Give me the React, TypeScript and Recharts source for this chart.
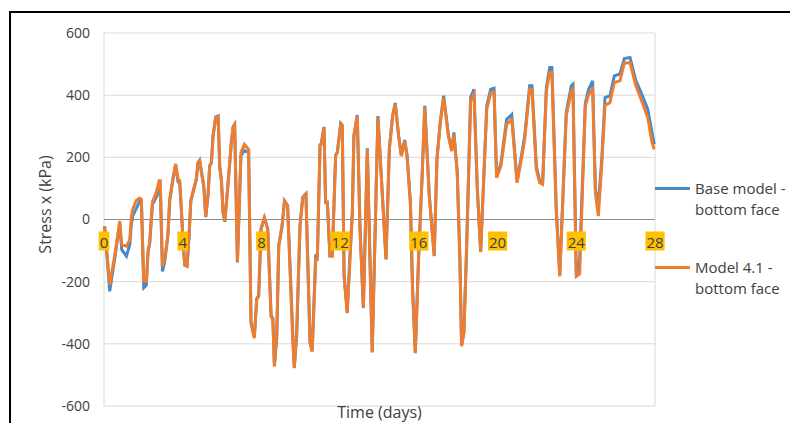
import React from 'react';
import {
    LineChart,
    Line,
    XAxis,
    YAxis,
    CartesianGrid,
    ReferenceLine,
    ReferenceDot,
} from 'recharts';

// time in days
const time = [
    0.03, 0.29, 0.54, 0.8, 0.9, 1.14, 1.31, 1.39, 1.47, 1.64, 1.81, 1.9, 2.02, 2.15, 2.24, 2.32,
    2.46, 2.66, 2.8, 2.86, 2.97, 3.08, 3.25, 3.34, 3.51, 3.64, 3.76, 3.85, 3.93, 4.02, 4.1, 4.22,
    4.32, 4.41, 4.56, 4.69, 4.78, 4.86, 4.97, 5.07, 5.17, 5.29, 5.37, 5.46, 5.54, 5.68, 5.8, 5.88,
    5.97, 6.05, 6.14, 6.27, 6.39, 6.47, 6.56, 6.64, 6.78, 6.96, 7.13, 7.35, 7.47, 7.64, 7.76, 7.86,
    7.98, 8.15, 8.32, 8.49, 8.58, 8.66, 8.78, 8.88, 9.05, 9.17, 9.33, 9.59, 9.67, 9.79, 9.96, 10.1,
    10.26, 10.47, 10.58, 10.76, 10.84, 10.98, 11.04, 11.18, 11.26, 11.35, 11.48, 11.6, 11.77, 11.86,
    12.03, 12.11, 12.2, 12.36, 12.5, 12.62, 12.7, 12.87, 13.01, 13.18, 13.3, 13.38, 13.63, 13.92,
    14.33, 14.5, 14.67, 14.8, 14.97, 15.11, 15.28, 15.4, 15.57, 15.68, 15.82, 15.99, 16.16, 16.3,
    16.53, 16.78, 16.92, 17.09, 17.26, 17.5, 17.67, 17.78, 17.95, 18.09, 18.17, 18.29, 18.43, 18.63,
    18.8, 18.97, 19.14, 19.45, 19.65, 19.82, 19.95, 20.17, 20.46, 20.72, 20.99, 21.24, 21.38, 21.63,
    21.75, 21.97, 22.14, 22.29, 22.48, 22.65, 22.76, 22.98, 23.16, 23.49, 23.75, 23.83, 24.0, 24.17,
    24.46, 24.63, 24.83, 24.97, 25.12, 25.3, 25.46, 25.71, 25.93, 26.22, 26.44, 26.73, 27.03, 27.29,
    27.63, 27.85, 27.96,
];

// Base model - bottom face (kPa)
const baseModel = [
    -21, -231, -128, -12, -97, -118, -80, -16, 13, 35, 58, 58, -220, -212, -104, -78,
    48, 72, 92, 105, -167, -138, -50, 60, 130, 175, 122, 116, 30, -72, -147, -150,
    -56, 58, 96, 128, 182, 190, 145, 107, 8, 80, 171, 183, 268, 330, 333, 170,
    122, 22, -7, 90, 182, 248, 298, 306, -138, 205, 222, 215, -330, -378, -255, -245,
    -30, 6, -30, -308, -318, -470, -380, -84, -20, 60, 45, -362, -476, -378, -20, 72,
    83, -395, -422, -112, -125, 240, 244, 298, 56, 56, -116, -116, 206, 218,
    309, 303, -180, -298, -112, 24, 271, 336, -30, -282, 13, 229, -425, 333,
    -127, 229, 336, 375, 271, 206, 256, 206, 56, -223, -427, -116, 131, 366,
    77, -116, 196, 315, 398, 272, 225, 280, 153, -138, -405, -362, -84, 392,
    419, 100, -102, 365, 419, 422, 138, 180, 322, 338, 125, 215, 270, 430,
    430, 170, 125, 118, 425, 489, 489, 38, -178, 345, 430, 435, -178, -130,
    375, 419, 446, 100, 43, 200, 392, 398, 462, 468, 518, 521, 446, 409,
    355, 280, 242,
];

// Model 4.1 - bottom face (kPa)
const model41 = [
    -21, -210, -118, -5, -81, -86, -65, 10, 35, 61, 69, 65, -199, -199, -97, -75,
    56, 88, 125, 125, -150, -129, -48, 67, 136, 179, 131, 125, 35, -70, -145, -150,
    -54, 61, 99, 131, 184, 189, 147, 109, 10, 83, 173, 184, 269, 328, 331, 173,
    125, 24, -5, 93, 184, 248, 296, 303, -135, 215, 242, 226, -333, -382, -258, -247,
    -32, 5, -32, -312, -322, -473, -365, -86, -21, 59, 43, -387, -478, -360, -21, 70,
    81, -398, -425, -129, -129, 237, 242, 296, 54, 54, -118, -118, 204, 215,
    306, 301, -183, -301, -129, 22, 269, 333, -32, -285, 11, 226, -428, 328,
    -129, 226, 333, 371, 269, 204, 253, 204, 54, -226, -430, -118, 129, 360,
    75, -118, 194, 312, 392, 269, 220, 274, 150, -140, -408, -365, -86, 382,
    403, 97, -105, 355, 406, 410, 134, 172, 306, 322, 118, 204, 258, 419,
    419, 161, 118, 113, 414, 473, 473, 32, -183, 333, 414, 420, -183, -175,
    365, 403, 419, 86, 11, 183, 368, 376, 441, 446, 503, 505, 430, 387,
    328, 247, 226,
];

const dayTicks = [0, 4, 8, 12, 16, 20, 24, 28];
const stressTicks = [-600, -400, -200, 0, 200, 400, 600];

const series = [
    { key: 'base', name: 'Base model - bottom face', color: '#4A89C8' },
    { key: 'model', name: 'Model 4.1 - bottom face', color: '#ED7D31' },
];

const data = time.map((t, i) => ({
    t,
    base: baseModel[i],
    model: model41[i],
}));

const FONT = '"Open Sans", "Liberation Sans", sans-serif';

function DayLabel(props: any) {
    const { cx, cy, label } = props;
    const txt = String(label);
    const w = txt.length * 8.6 + 2;
    return (
        <g>
            <rect x={cx - w / 2} y={cy + 12} width={w} height={19} fill='#FFC000' />
            <text
                x={cx}
                y={cy + 22}
                textAnchor='middle'
                dominantBaseline='central'
                fontSize={15}
                fontFamily={FONT}
                fill='#404040'
            >
                {txt}
            </text>
        </g>
    );
}

// legend drawn beside the chart, Excel style (line sample + 2 line label)
function SideLegend() {
    return (
        <div
            style={{
                position: 'absolute',
                left: 655,
                top: 178,
                width: 135,
                fontFamily: FONT,
                fontSize: 15,
                color: '#404040',
            }}
        >
            {series.map((s) => {
                const parts = s.name.split(' - ');
                return (
                    <div key={s.key} style={{ position: 'relative', height: 79, lineHeight: '21px' }}>
                        <div
                            style={{
                                position: 'absolute',
                                left: 0,
                                top: 9,
                                width: 35,
                                height: 3,
                                background: s.color,
                            }}
                        />
                        <div style={{ position: 'absolute', left: 40, top: 0, whiteSpace: 'nowrap' }}>
                            <div>{parts[0]} -</div>
                            <div>{parts[1]}</div>
                        </div>
                    </div>
                );
            })}
        </div>
    );
}

export default function App() {
    return (
        <div
            style={{
                position: 'absolute',
                left: 0,
                top: 0,
                width: 790,
                height: 423,
                overflow: 'hidden',
                background: '#fff',
            }}
        >
            <div
                style={{
                    position: 'absolute',
                    left: 9,
                    top: 11,
                    width: 800,
                    height: 430,
                    border: '2px solid #000',
                }}
            />
            <div style={{ position: 'absolute', left: 0, top: 0 }}>
                <LineChart
                    width={790}
                    height={423}
                    data={data}
                    margin={{ top: 33, right: 135, bottom: 0, left: 0 }}
                >
                    <CartesianGrid stroke='#d9d9d9' />
                    <XAxis
                        dataKey='t'
                        type='number'
                        domain={[0, 28]}
                        ticks={dayTicks}
                        tick={false}
                        tickLine={false}
                        axisLine={false}
                        height={17}
                        label={{
                            value: 'Time (days)',
                            position: 'insideBottom',
                            offset: 5,
                            fontSize: 16,
                            fontFamily: FONT,
                            fill: '#404040',
                        }}
                    />
                    <YAxis
                        type='number'
                        domain={[-600, 600]}
                        ticks={stressTicks}
                        width={104}
                        tickLine={false}
                        axisLine={false}
                        tickSize={0}
                        tickMargin={14}
                        tick={{ fontSize: 14, fontFamily: FONT, fill: '#404040' }}
                        label={{
                            value: 'Stress x (kPa)',
                            angle: -90,
                            position: 'insideLeft',
                            offset: 45,
                            dy: -15,
                            fontSize: 16,
                            fontFamily: FONT,
                            fill: '#404040',
                            textAnchor: 'middle',
                        }}
                    />
                    <ReferenceLine y={0} stroke='#8c8c8c' strokeWidth={1} />
                    {series.map((s) => (
                        <Line
                            key={s.key}
                            dataKey={s.key}
                            name={s.name}
                            type='linear'
                            stroke={s.color}
                            strokeWidth={3}
                            dot={false}
                            isAnimationActive={false}
                        />
                    ))}
                    {dayTicks.map((d) => (
                        <ReferenceDot
                            key={d}
                            x={d}
                            y={0}
                            r={1}
                            ifOverflow='visible'
                            shape={(p: any) => <DayLabel {...p} label={d} />}
                        />
                    ))}
                </LineChart>
            </div>
            <SideLegend />
        </div>
    );
}
